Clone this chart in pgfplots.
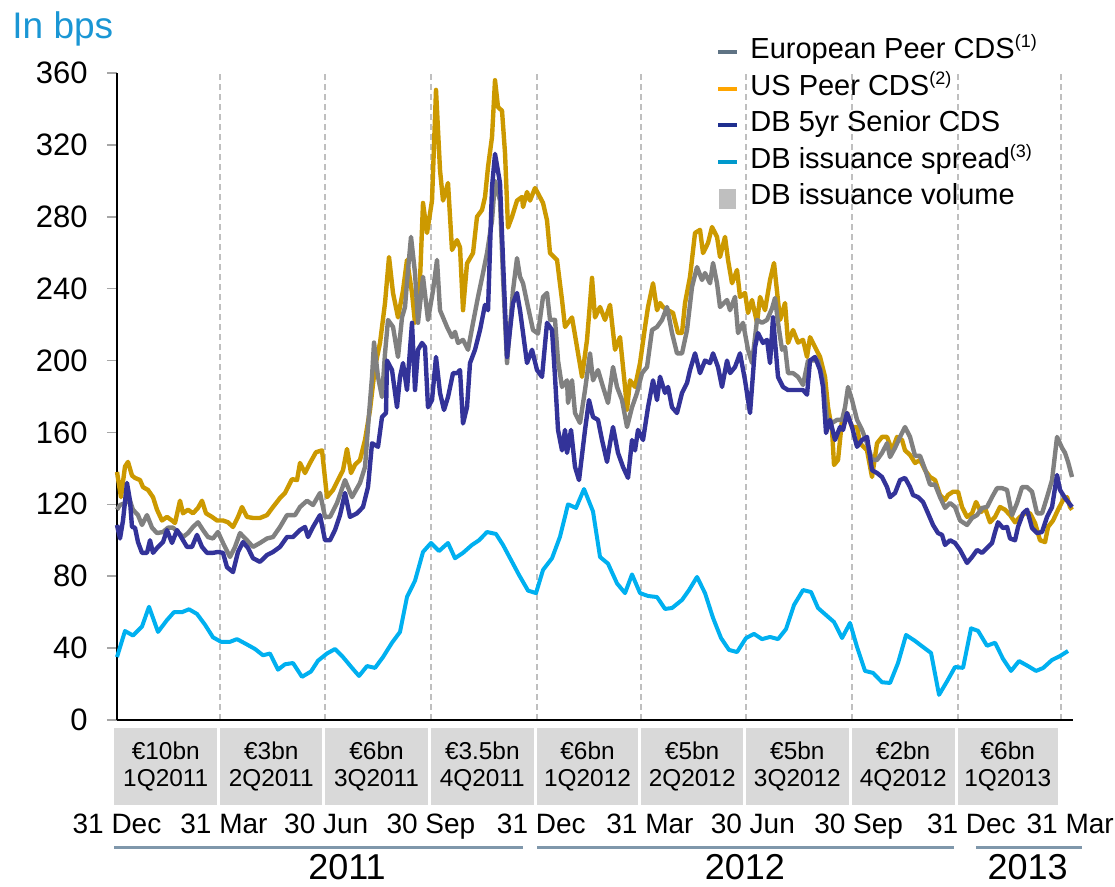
\documentclass[border=0pt]{standalone}
\usepackage{pgfplots}
\pgfplotsset{compat=1.18}
\usepackage{fontspec}
\setmainfont{Liberation Sans}
\definecolor{cgold}{HTML}{CC9900}
\definecolor{cgray}{HTML}{808080}
\definecolor{cnavy}{HTML}{333399}
\definecolor{cblue}{HTML}{00B0F0}
\definecolor{lgray}{HTML}{5F7384}
\definecolor{lgold}{HTML}{FFA500}
\definecolor{lnavy}{HTML}{1F2F8F}
\definecolor{lblue}{HTML}{0099CC}
\definecolor{boxgray}{HTML}{D9D9D9}
\definecolor{volgray}{HTML}{BFBFBF}
\definecolor{yearline}{HTML}{7F97AB}
\definecolor{titleblue}{HTML}{1A96D4}
\definecolor{gridgray}{HTML}{BFBFBF}
\newcommand{\sups}[1]{\raisebox{5.5pt}{\fontsize{9}{9}\selectfont(#1)}}
\begin{document}
\begin{tikzpicture}
\useasboundingbox (-58.5pt,-83.5pt) rectangle (499pt,360pt);
\begin{axis}[
 at={(0,0)}, anchor=south west,
 scale only axis, width=478pt, height=323.5pt,
 xmin=0, xmax=831.4, ymin=0, ymax=360,
 axis lines=left, axis line style={-, black, line width=0.8pt},
 ytick={0,40,...,360},
 xtick={0,90,181,273,365,456,547,639,731,821},
 xticklabels={},
 xtick style={draw=none},
 xmajorgrids,
 grid style={gridgray, line width=1pt, dash pattern=on 3pt off 2pt},
 ytick style={draw=gray!70, line width=0.8pt},
 tick align=outside, major tick length=5pt,
 yticklabel style={font=\fontsize{15.5}{17}\selectfont, anchor=east, inner sep=0pt, xshift=-9.5pt},
 /pgf/number format/assume math mode=true,
 clip=false,
 legend cell align=left,
 legend style={at={(axis description cs:0.6266,1.0564)}, anchor=north west, draw=none, fill=none,
   font=\fontsize{14.5}{16}\selectfont, row sep=2.75pt, inner sep=0pt,
   nodes={inner sep=1pt, text height=10pt, text depth=3.5pt},
   /tikz/every odd column/.append style={column sep=4.5pt}},
 legend image code/.code={\draw[#1, line width=2pt] (0pt,0pt) -- (9.5pt,0pt);},
]
% legend entries
\addlegendimage{lgray}
\addlegendentry{European Peer CDS\sups{1}}
\addlegendimage{lgold}
\addlegendentry{US Peer CDS\sups{2}}
\addlegendimage{lnavy}
\addlegendentry{DB 5yr Senior CDS}
\addlegendimage{lblue}
\addlegendentry{DB issuance spread\sups{3}}
\addlegendimage{legend image code/.code={\fill[volgray] (0.5pt,-4.75pt) rectangle (8.5pt,4.75pt);}}
\addlegendentry{DB issuance volume}

% issuance volume boxes (per quarter)
\fill[boxgray] (axis cs:-2.6,-4.45) rectangle (axis cs:87.4,-47.3);
\fill[boxgray] (axis cs:90,-4.45) rectangle (axis cs:178.4,-47.3);
\fill[boxgray] (axis cs:181,-4.45) rectangle (axis cs:270.4,-47.3);
\fill[boxgray] (axis cs:273,-4.45) rectangle (axis cs:362.4,-47.3);
\fill[boxgray] (axis cs:365,-4.45) rectangle (axis cs:453.4,-47.3);
\fill[boxgray] (axis cs:456,-4.45) rectangle (axis cs:544.4,-47.3);
\fill[boxgray] (axis cs:547,-4.45) rectangle (axis cs:636.4,-47.3);
\fill[boxgray] (axis cs:639,-4.45) rectangle (axis cs:728.4,-47.3);
\fill[boxgray] (axis cs:731,-4.45) rectangle (axis cs:818.4,-47.3);
\begin{scope}[every node/.style={align=center, font=\fontsize{12.2}{13.5}\selectfont}]
\node at (axis cs:42.4,-25.6) {€10bn\\1Q2011};
\node at (axis cs:134.2,-25.6) {€3bn\\2Q2011};
\node at (axis cs:225.7,-25.6) {€6bn\\3Q2011};
\node at (axis cs:317.7,-25.6) {€3.5bn\\4Q2011};
\node at (axis cs:409.2,-25.6) {€6bn\\1Q2012};
\node at (axis cs:500.2,-25.6) {€5bn\\2Q2012};
\node at (axis cs:591.7,-25.6) {€5bn\\3Q2012};
\node at (axis cs:683.7,-25.6) {€2bn\\4Q2012};
\node at (axis cs:774.7,-25.6) {€6bn\\1Q2013};
\end{scope}
\begin{scope}[every node/.style={font=\fontsize{14}{15}\selectfont, anchor=base, inner sep=0pt}]
\node at (axis cs:0,-63.4) {31 Dec};
\node at (axis cs:93,-63.4) {31 Mar};
\node at (axis cs:182,-63.4) {30 Jun};
\node at (axis cs:273,-63.4) {30 Sep};
\node at (axis cs:369,-63.4) {31 Dec};
\node at (axis cs:463.5,-63.4) {31 Mar};
\node at (axis cs:553,-63.4) {30 Jun};
\node at (axis cs:645,-63.4) {30 Sep};
\node at (axis cs:743,-63.4) {31 Dec};
\node at (axis cs:829,-63.4) {31 Mar};
\end{scope}
\draw[yearline, line width=1.5pt] (axis cs:-2.6,-71.2) -- (axis cs:353,-71.2);
\draw[yearline, line width=1.5pt] (axis cs:365.3,-71.2) -- (axis cs:728,-71.2);
\draw[yearline, line width=1.5pt] (axis cs:747,-71.2) -- (axis cs:839,-71.2);
\begin{scope}[every node/.style={font=\fontsize{18}{20}\selectfont, anchor=base, inner sep=0pt, text depth=0pt}]
\node at (axis cs:200,-88.9) {2011};
\node at (axis cs:546,-88.9) {2012};
\node at (axis cs:792,-88.9) {2013};
\end{scope}
\node[anchor=base west, inner sep=0pt, text=titleblue, font=\fontsize{18.5}{20}\selectfont] at (axis description cs:-0.1098,1.054) {In bps};

% US Peer CDS
\addplot[cgold, line width=2.2pt, line join=round, forget plot] table[x expr={(\thisrow{px}-117)*0.8697}, y=v] {
px v
117 138
121 124
125 141
128 143.6
132 136
135 134.7
140 133.5
143 129.6
148 128
153 124
157 117
162 111
167 113
172 111
175 109.6
180 122
183 115
188 117
193 115
198 118
202 122
206 115
212 113
217 111
223 111
228 110
233 107.4
238 113
242 118.5
247 113
253 112.4
260 112.4
267 114
273 118.5
280 123.5
285 126.3
292 134
297 133.5
300 143
305 137.4
310 143
316 149
322 150
327 124
333 128
338 133.5
343 139
347 150.8
351 137.4
355 142
360 144.7
365 155.8
370 172.5
375 196.4
380 209.8
385 232
389 257.6
393 237.6
398 224
403 239
407 256
412 237.6
415 221
420 244.8
423 287.7
427 271
432 289
436 350.6
440 306
443 289
448 298.8
452 261.5
457 267
460 263
463 228
467 254
473 259.8
477 280
482 283.8
485 291
488 307.7
492 324.4
495 356
498 341
502 339
505 315.5
508 274
512 280
517 289
522 291
523 285.4
527 293.8
530 289
535 296
538 293
543 287.7
547 278
550 259.8
557 256
562 233.7
565 218.7
572 224
577 207.5
582 190.9
587 211.5
592 246
595 224
600 229.8
605 222.6
610 231
615 206
620 213
625 185.3
627 172.5
630 189
635 185.3
640 198.6
645 218.7
648 229.8
653 243
657 228
660 232
663 229.8
668 228
673 226.5
678 215.3
682 215.3
685 232
690 246.6
695 271
700 272.7
703 259.8
708 265.4
712 274.3
717 268.8
720 257.6
725 268.8
728 256
732 243
737 250.4
740 235.4
745 237.6
748 226.5
752 233.7
757 221
760 235.4
765 228
770 244.8
774 254.3
780 222.6
785 232
788 209.8
793 217
798 210
803 211.5
807 202
810 213
815 207.5
820 202
825 190.9
828 174
832 161.4
834 141.9
838 144.7
842 167
847 170.8
852 163
857 163
860 154
867 150
872 135.2
877 154
882 157.5
887 157.5
892 150
897 157.5
902 155.8
905 150
910 147.5
915 143
920 144.7
925 139
930 135.2
935 133.5
940 125.2
945 122.4
948 125.2
953 127
958 127
962 118.5
967 113
972 115
976 121.3
981 115.7
985 118
990 110
995 113
1000 118.5
1005 117
1010 114
1015 110
1020 113
1025 115
1030 115
1035 109.6
1040 100
1045 99
1048 107.4
1053 111
1058 117
1063 122.4
1067 124
1070 118.5
1072 117
};

% European Peer CDS
\addplot[cgray, line width=2.2pt, line join=round, forget plot] table[x expr={(\thisrow{px}-117)*0.8697}, y=v] {
px v
117 117
120 119.6
125 120.7
130 122
133 117
138 114
142 108.5
147 114
152 107
157 104
163 104.6
168 107
173 107
178 104.6
183 101.8
188 104
193 107.4
198 110
203 105.7
208 101.8
213 101
218 104.6
223 98.5
230 90.7
235 96.3
240 104
247 100
253 96.3
260 98.5
267 101
273 101.8
280 107.4
287 114
295 114
300 118.5
307 122
313 119.6
320 126.3
325 113
330 113
337 120.7
345 133.5
352 124
360 131.9
365 140.8
368 163
372 190.9
374 210
378 190.9
382 179.7
385 204
388 222.6
393 218.7
398 202
402 224
405 229.8
408 250.4
411 268.8
415 248.7
418 221
423 246.6
428 222.6
433 239
437 256
440 228
447 218.7
452 213
455 216
458 209.8
463 211.5
468 206
473 221
478 235.4
483 248.7
487 259.8
492 278
495 300
500 289
503 246.6
507 198.6
513 239
517 257
520 246.6
523 243
528 229.8
533 217
538 215
543 235.4
547 237.6
550 222.6
555 222.6
558 200
562 185.3
567 189
568 176.4
572 189
575 170.8
580 165.3
585 183.6
590 204
593 189
598 194.7
603 185.3
608 176.4
613 196.4
617 185.3
622 178
627 163
632 174
637 182
642 193
647 196.4
652 217
657 218.7
662 222.6
667 229.8
672 215.3
677 204
682 204
687 217
692 241
697 252
702 244.8
705 248.7
710 243
713 254.3
717 243
720 229.8
727 233.7
730 228
735 235.4
738 215.3
743 221
748 206
752 198.6
757 222.6
762 221
767 222.6
772 229
775 234.8
778 221
782 206
785 207.5
788 193
793 193
798 190.9
803 186.4
808 200
813 200
818 200
823 189
827 167
832 165.3
837 167
842 167
845 174
848 185.3
852 178
857 167
862 161.4
867 154
872 144.7
877 144.7
882 148.6
887 154
890 146.3
895 151.4
900 157.5
905 163
910 157.5
915 147
920 147
925 139.5
930 131
935 131
940 124
945 118
950 120.7
955 118.5
960 111
967 108.5
972 112.4
977 114
982 118
987 118.5
992 124
997 129
1002 129
1007 128
1012 114
1017 120.7
1022 129.6
1027 129.6
1032 127
1037 115
1042 115
1047 124
1052 133.5
1057 157.5
1062 151.4
1065 148.6
1068 143.6
1072 135.2
};

% DB 5yr Senior CDS
\addplot[cnavy, line width=2.2pt, line join=round, forget plot] table[x expr={(\thisrow{px}-117)*0.8697}, y=v] {
px v
117 108.5
120 101
123 111
127 131.9
130 122
132 107.4
135 107
138 99
142 93
147 93
150 100
153 93
158 96.3
163 99
167 105.7
172 98.5
177 105.7
182 101
187 96.3
192 96.3
197 103
202 96.3
207 93
213 93
218 93.5
223 93
227 85
233 82.3
238 93.5
243 99
248 95.7
253 90
260 88
267 91.8
273 93.5
280 96.3
287 101.8
293 101.8
300 105.7
305 107.4
308 101.8
313 107.4
320 114
325 100
330 100
335 105.7
340 114
345 126.3
350 113
357 115
363 118.5
368 129.6
372 154
378 152
382 168.6
386 170.8
387 200
392 194.7
397 174
400 190.9
403 198.6
407 183.6
412 221
415 183.6
418 206
422 209.8
425 207.5
428 174
432 178
436 202
440 182
444 172.5
448 179.7
453 193
457 193
460 194.7
463 165
467 174
470 198.6
475 206
480 217
485 231
488 228
492 296.6
495 315
500 298.8
503 256
507 202
513 232
517 237.6
520 228
527 198.6
532 206
537 194.7
542 190.9
547 221
552 217
555 190.9
558 161.4
562 150
565 161.4
567 148.6
571 161.4
575 140.8
579 133.5
585 161.4
589 178
593 168.6
598 167
602 155.8
607 143.6
610 154
613 163
618 148.6
623 140.8
628 134.7
632 155.8
635 150
638 161.4
643 155.8
648 174
653 189
657 178
660 191
665 182
668 185.3
672 174
677 170.8
682 182
687 187.5
690 194.7
695 204
700 193
705 200
710 198.6
713 204
718 196.4
722 185.3
727 200
730 193
735 196.4
740 204
745 189
750 170.8
755 207.5
758 215.3
763 209.8
767 211.5
770 198.6
773 224
778 190.9
783 185.3
788 183.6
793 183.6
798 183.6
803 183.6
807 181
810 200
815 202
820 194.7
823 185.3
826 159.7
830 167
835 155.8
840 163
843 161.4
847 170.8
852 163
857 152
862 155.8
867 157.5
872 139
877 137.4
882 135.2
887 129.6
890 124
895 126.3
900 133.5
905 134.7
910 129.6
913 125.2
918 124
923 121.3
928 115
933 108.5
938 104
942 103
945 97.4
950 100
955 98.5
960 94.6
967 87.4
972 90.7
977 94.6
982 93
987 95.7
992 98.5
995 104.6
998 110
1003 106.8
1007 107.4
1010 101
1015 100
1018 107.4
1023 115
1027 117
1032 106.8
1037 104
1042 104.6
1047 113
1052 118.5
1057 136.3
1060 128
1065 123.5
1072 118.5
};

% DB issuance spread
\addplot[cblue, line width=2pt, line join=round, forget plot] table[x expr={(\thisrow{px}-117)*0.8697}, y=v] {
px v
117 35
125 49.5
133 47
142 52
149 63
158 49
167 55.6
174 60
182 60
189 61.6
197 59
205 53
213 46
221 43.5
230 43.5
237 45
247 42
255 39.5
263 36
270 37
278 28
285 31
293 31.7
302 24
311 27
318 33
327 37
335 39.5
343 35
352 29
359 24.5
367 30
375 29
383 35
392 43
400 49
407 68.5
415 77.5
423 93.5
431 98.5
439 94
448 98.5
455 90
463 93
472 97.4
479 100
487 104.6
496 103.5
503 97.4
512 88
519 80.7
528 72
536 70.6
543 83.5
552 90
560 102
568 120
576 118
584 128.5
593 116
600 90.7
608 87
617 76
625 70.6
632 81
640 70.6
648 69
657 68.4
665 61.8
672 62.3
682 66.8
689 72.3
697 79.6
705 70.6
713 56.8
721 45.6
729 39
737 37.8
746 45.6
754 47.9
762 45
770 46.2
778 45
786 50.6
794 64
803 72.3
811 71.2
818 62.3
827 57.9
834 54.5
842 45.6
850 54
857 40.6
865 27.3
873 26.2
882 21
890 20.6
898 31.7
906 47.3
915 44
923 40.6
931 37.3
939 14
947 21.5
955 29.5
963 29
971 51
978 49.6
987 41.3
995 43
1003 34
1011 27.3
1019 32.8
1028 30
1036 27.3
1043 28.9
1052 33.4
1060 35.6
1068 38.4
};
\end{axis}
\end{tikzpicture}
\end{document}
